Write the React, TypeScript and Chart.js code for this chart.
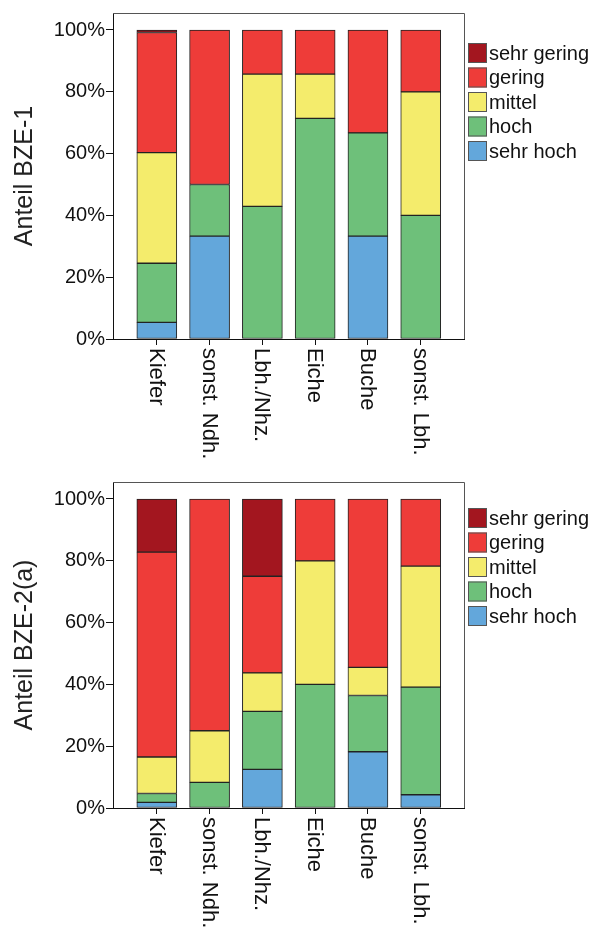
import React, { useEffect, useRef } from "react";
import { Chart, registerables } from "chart.js";

Chart.register(...registerables);

const categories = ["Kiefer", "sonst. Ndh.", "Lbh./Nhz.", "Eiche", "Buche", "sonst. Lbh."];
const classes = ["sehr hoch", "hoch", "mittel", "gering", "sehr gering"];
const classColors = ["#63A7DB", "#6EC07A", "#F4EC6C", "#EE3C39", "#A3161F"];
const yTickValues = [0, 20, 40, 60, 80, 100];

// BZE-1 shares (%)
const bze1SehrHoch = [5.4, 33.3, 0, 0, 33.3, 0];
const bze1Hoch = [19.1, 16.7, 42.9, 71.4, 33.4, 40];
const bze1Mittel = [35.8, 0, 42.8, 14.3, 0, 40];
const bze1Gering = [38.9, 50, 14.3, 14.3, 33.3, 20];
const bze1SehrGering = [0.8, 0, 0, 0, 0, 0];

// BZE-2(a) shares (%)
const bze2SehrHoch = [1.8, 0, 12.5, 0, 18.2, 4.3];
const bze2Hoch = [2.9, 8.3, 18.75, 40, 18.2, 34.8];
const bze2Mittel = [11.8, 16.7, 12.5, 40, 9.1, 39.2];
const bze2Gering = [66.3, 75, 31.25, 20, 54.5, 21.7];
const bze2SehrGering = [17.2, 0, 25, 0, 0, 0];

const FONT = "'Liberation Sans', Arial, Helvetica, sans-serif";

type Cfg = {
  title: string;
  series: number[][];
  top: number;
  axisHeight: number;
  legendTop: number;
};

function buildChart(canvas: HTMLCanvasElement, cfg: Cfg) {
  const datasets = cfg.series.map((vals, si) => ({
    label: classes[si],
    data: vals.map((v, i) => ({ x: i, y: v === 0 ? null : v })),
    backgroundColor: classColors[si],
    borderColor: "#222",
    borderWidth: 1,
    borderSkipped: false as const,
    barThickness: 40,
  }));

  const decor = {
    id: "decor",
    afterDatasetsDraw(chart: any) {
      const { ctx, chartArea } = chart;
      ctx.save();
      ctx.strokeStyle = "#555";
      ctx.lineWidth = 1;
      ctx.beginPath();
      ctx.moveTo(chartArea.left, chartArea.top + 0.5);
      ctx.lineTo(chartArea.right + 0.5, chartArea.top + 0.5);
      ctx.lineTo(chartArea.right + 0.5, chartArea.bottom);
      ctx.stroke();
      ctx.restore();
    },
    afterDraw(chart: any) {
      const { ctx, chartArea } = chart;
      const xs = chart.scales.x;
      ctx.save();
      // rotated category labels (reading top to bottom)
      ctx.fillStyle = "#111";
      ctx.font = `22px ${FONT}`;
      ctx.textAlign = "left";
      ctx.textBaseline = "middle";
      categories.forEach((c, i) => {
        const px = xs.getPixelForValue(i);
        ctx.save();
        ctx.translate(px - 1, chartArea.bottom + 9);
        ctx.rotate(Math.PI / 2);
        ctx.fillText(c, 0, 0);
        ctx.restore();
      });
      // legend
      const items = chart.data.datasets.map((d: any) => ({ label: d.label, color: d.backgroundColor })).reverse();
      const bx = chartArea.right + 4;
      ctx.font = `20px ${FONT}`;
      items.forEach((it: any, k: number) => {
        const y = cfg.legendTop + k * 24.5;
        ctx.fillStyle = it.color;
        ctx.fillRect(bx, y, 19, 20);
        ctx.strokeStyle = "#555";
        ctx.lineWidth = 1;
        ctx.strokeRect(bx + 0.5, y + 0.5, 18, 19);
        ctx.fillStyle = "#111";
        ctx.textBaseline = "middle";
        ctx.fillText(it.label, bx + 21, y + 11);
      });
      ctx.restore();
    },
  };

  return new Chart(canvas, {
    type: "bar",
    data: { datasets: datasets as any },
    plugins: [decor],
    options: {
      animation: false,
      responsive: false,
      devicePixelRatio: 1,
      layout: { padding: { top: cfg.top, right: 137, left: 0, bottom: 0 } },
      plugins: { legend: { display: false }, tooltip: { enabled: false } },
      scales: {
        x: {
          type: "linear",
          stacked: true,
          offset: false,
          min: -0.83,
          max: 5.82,
          afterBuildTicks: (s: any) => {
            s.ticks = categories.map((_, i) => ({ value: i }));
          },
          afterFit: (s: any) => {
            s.height = cfg.axisHeight;
          },
          ticks: { display: false },
          grid: { offset: false, drawOnChartArea: false, drawTicks: true, tickLength: 6, color: "#111", tickColor: "#111" },
          border: { display: true, color: "#111", width: 1 },
        },
        y: {
          stacked: true,
          min: 0,
          max: 105.5,
          afterBuildTicks: (s: any) => {
            s.ticks = yTickValues.map((v) => ({ value: v }));
          },
          afterFit: (s: any) => {
            s.width = 113;
          },
          ticks: {
            callback: (v: any) => `${v}%`,
            color: "#111",
            font: { size: 20, family: FONT },
            padding: 1,
          },
          grid: { drawOnChartArea: false, drawTicks: true, tickLength: 7, color: "#111", tickColor: "#111" },
          border: { display: true, color: "#111", width: 1 },
          title: {
            display: true,
            text: cfg.title,
            color: "#222",
            font: { size: 25, family: FONT },
            padding: { top: 10, bottom: 0 },
          },
        },
      },
    } as any,
  });
}

function BarPanel(props: Cfg) {
  const ref = useRef<HTMLCanvasElement | null>(null);
  useEffect(() => {
    if (!ref.current) return;
    const chart = buildChart(ref.current, props);
    return () => chart.destroy();
  }, []);
  return <canvas ref={ref} width={601} height={466} style={{ display: "block", width: 601, height: 466 }} />;
}

export default function App() {
  return (
    <div style={{ position: "absolute", left: 0, top: 0, width: 601, height: 932, background: "#fff", overflow: "hidden" }}>
      <BarPanel
        title="Anteil BZE-1"
        series={[bze1SehrHoch, bze1Hoch, bze1Mittel, bze1Gering, bze1SehrGering]}
        top={12}
        axisHeight={127}
        legendTop={43}
      />
      <BarPanel
        title="Anteil BZE-2(a)"
        series={[bze2SehrHoch, bze2Hoch, bze2Mittel, bze2Gering, bze2SehrGering]}
        top={16}
        axisHeight={124}
        legendTop={42}
      />
    </div>
  );
}
